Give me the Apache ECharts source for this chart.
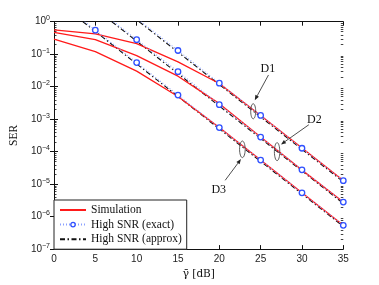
<!DOCTYPE html>
<html><head><meta charset="utf-8">
<script src="https://cdn.jsdelivr.net/npm/echarts@6/dist/echarts.min.js"></script>
<style>html,body{margin:0;padding:0;background:#fff}#c{width:379px;height:285px}</style>
</head><body><div id="c"></div>
<script>
// ---- data ----
const snr = [0, 5, 10, 15, 20, 25, 30, 35];
const simD1 = [0.56, 0.42, 0.21, 0.058, 0.0125, 1.3e-3, 1.3e-4, 1.3e-5];
const simD2 = [0.47, 0.28, 0.09, 0.021, 0.003, 2.8e-4, 2.7e-5, 2.8e-6];
const simD3 = [0.29, 0.12, 0.03, 0.005, 5.5e-4, 5.5e-5, 5.4e-6, 5.4e-7];

const exactX1 = [15, 20, 25, 30, 35];
const exactD1 = [0.13, 0.0128, 1.3e-3, 1.27e-4, 1.28e-5];
const exactX2 = [10, 15, 20, 25, 30, 35];
const exactD2 = [0.28, 0.029, 2.8e-3, 2.8e-4, 2.75e-5, 2.8e-6];
const exactX3 = [5, 10, 15, 20, 25, 30, 35];
const exactD3 = [0.55, 0.055, 5.5e-3, 5.5e-4, 5.5e-5, 5.4e-6, 5.4e-7];
const exactTop = [[10.5, 1], [7.2, 1], [3.7, 1]];   // where each exact curve leaves the top edge

const approxD1 = [[10.3, 1], [35, 1.18e-5]];
const approxD2 = [[7.0, 1], [35, 2.55e-6]];
const approxD3 = [[3.5, 1], [35, 5.0e-7]];

const xTicks = [0, 5, 10, 15, 20, 25, 30, 35];
const legendNames = ['Simulation', 'High SNR (exact)', 'High SNR (approx)'];

// annotations in data coordinates
const labels = [['D1', 25.88, 0.0347], ['D2', 31.51, 9.5e-4], ['D3', 19.93, 6.6e-6]];
const ellipses = [[24.1, 1.75e-3, 2.5, 7.5], [26.99, 1.0e-4, 2.7, 9], [22.79, 1.18e-4, 2.8, 8.3]];
const arrows = [[25.95, 0.0229, 24.29, 3.83e-3], [30.83, 6.73e-4, 27.46, 1.67e-4], [20.71, 1.31e-5, 22.62, 5.89e-5]];

// ---- chart ----
const RED = '#ff1a1a', BLUE = '#2f50ff';
const zip = (xs, ys) => xs.map((x, i) => [x, ys[i]]);
const chart = echarts.init(document.getElementById('c'));
const sup = v => {
  const e = Math.round(Math.log10(v));
  return '{b|10}{s|' + (e < 0 ? '\u2212' + (-e) : e) + '}';
};
const series = [];
[simD1, simD2, simD3].forEach(d => series.push({
  name: legendNames[0], type: 'line', data: zip(snr, d), symbol: 'none',
  lineStyle: {color: RED, width: 1.3}, itemStyle: {color: RED}, z: 4
}));
[[exactX1, exactD1], [exactX2, exactD2], [exactX3, exactD3]].forEach((p, i) => series.push({
  name: legendNames[1], type: 'line',
  data: [{value: exactTop[i], symbol: 'none'}].concat(zip(p[0], p[1])),
  symbol: 'circle', symbolSize: 5.5,
  itemStyle: {color: '#fff', borderColor: BLUE, borderWidth: 1.3},
  lineStyle: {color: '#8aa0ff', width: 1.1, type: [1, 2]}, z: 5
}));
[approxD1, approxD2, approxD3].forEach(d => series.push({
  name: legendNames[2], type: 'line', data: d, symbol: 'none',
  lineStyle: {color: '#111', width: 1.1, type: [5, 2.5, 1.5, 2.5]}, itemStyle: {color: '#111'}, z: 3
}));

const tickFont = {fontFamily: 'Liberation Sans', fontSize: 10, color: '#222'};
chart.setOption({
  animation: false,
  grid: {left: 49.3, right: 35.7, top: 21.7, bottom: 31.7},
  legend: {
    data: [
      {name: legendNames[0], itemStyle: {opacity: 0}},
      {name: legendNames[1], itemStyle: {color: '#fff', borderColor: BLUE, borderWidth: 1.3}},
      {name: legendNames[2], itemStyle: {opacity: 0}}
    ],
    orient: 'vertical', left: 54, top: 200,
    padding: [4, 5, 4, 5], itemGap: 2.6, itemWidth: 26, itemHeight: 5.5,
    backgroundColor: '#fff', borderColor: '#222', borderWidth: 1,
    textStyle: {fontFamily: 'Liberation Serif', fontSize: 11.5, color: '#111'}
  },
  xAxis: [{
    type: 'value', min: 0, max: 35, interval: 5, position: 'bottom',
    name: '{i|\u03b3\u0304} [dB]', nameLocation: 'middle', nameGap: 15,
    nameTextStyle: {fontFamily: 'DejaVu Serif', fontSize: 10.5, color: '#111',
      rich: {i: {fontFamily: 'DejaVu Serif', fontSize: 11}}},
    axisLine: {lineStyle: {color: '#111', width: 1}},
    axisTick: {inside: true, length: 4, lineStyle: {color: '#111'}},
    axisLabel: Object.assign({margin: 5}, tickFont),
    splitLine: {show: false}
  }, {
    type: 'value', min: 0, max: 35, interval: 5, position: 'top',
    axisLine: {lineStyle: {color: '#111', width: 1}},
    axisTick: {inside: true, length: 4, lineStyle: {color: '#111'}},
    axisLabel: {show: false}, splitLine: {show: false}
  }],
  yAxis: [{
    type: 'log', logBase: 10, min: 1e-7, max: 1, splitNumber: 7, position: 'left',
    name: 'SER', nameLocation: 'middle', nameGap: 31,
    nameTextStyle: {fontFamily: 'Liberation Serif', fontSize: 11.5, color: '#111'},
    axisLine: {show: true, lineStyle: {color: '#111', width: 1}},
    axisTick: {inside: true, length: 4, lineStyle: {color: '#111'}},
    axisLabel: {
      margin: 4, formatter: sup,
      rich: {
        b: {fontFamily: 'Liberation Sans', fontSize: 10, color: '#222'},
        s: {fontFamily: 'Liberation Sans', fontSize: 7, color: '#222', padding: [0, 0, 7, 0]}
      }
    },
    splitLine: {show: false}
  }, {
    type: 'log', logBase: 10, min: 1e-7, max: 1, splitNumber: 7, position: 'right',
    axisLine: {show: true, lineStyle: {color: '#111', width: 1}},
    axisTick: {inside: true, length: 4, lineStyle: {color: '#111'}},
    axisLabel: {show: false}, splitLine: {show: false}
  }],
  series: series
});

// ---- decorations: minor log ticks and annotations ----
const px = (x, y) => chart.convertToPixel({xAxisIndex: 0, yAxisIndex: 0}, [x, y]);
const g = [];
const xl = px(0, 1)[0], xr = px(35, 1)[0];
for (let n = -7; n < 0; n++) {
  for (let k = 2; k <= 9; k++) {
    const y = Math.round(px(0, k * Math.pow(10, n))[1]) + 0.5;
    g.push({type: 'line', shape: {x1: xl, y1: y, x2: xl + 2.5, y2: y}, style: {stroke: '#111', lineWidth: 0.8}, silent: true});
    g.push({type: 'line', shape: {x1: xr, y1: y, x2: xr - 2.5, y2: y}, style: {stroke: '#111', lineWidth: 0.8}, silent: true});
  }
}
labels.forEach(l => {
  const p = px(l[1], l[2]);
  g.push({type: 'text', x: p[0], y: p[1], z: 10,
    style: {text: l[0], fill: '#111', font: '12px "Liberation Serif"', align: 'center', verticalAlign: 'middle'}});
});
ellipses.forEach(e => {
  const p = px(e[0], e[1]);
  g.push({type: 'ellipse', z: 10, shape: {cx: p[0], cy: p[1], rx: e[2], ry: e[3]},
    style: {fill: null, stroke: '#333', lineWidth: 0.8}});
});
arrows.forEach(a => {
  const s = px(a[0], a[1]), t = px(a[2], a[3]);
  const ang = Math.atan2(t[1] - s[1], t[0] - s[0]);
  const L = 5, W = 2;
  const bx = t[0] - L * Math.cos(ang), by = t[1] - L * Math.sin(ang);
  g.push({type: 'line', z: 10, shape: {x1: s[0], y1: s[1], x2: bx, y2: by}, style: {stroke: '#222', lineWidth: 0.8}});
  g.push({type: 'polygon', z: 10, shape: {points: [
    [t[0], t[1]],
    [bx + W * Math.sin(ang), by - W * Math.cos(ang)],
    [bx - W * Math.sin(ang), by + W * Math.cos(ang)]
  ]}, style: {fill: '#222'}});
});
chart.setOption({graphic: g});
</script>
</body></html>
